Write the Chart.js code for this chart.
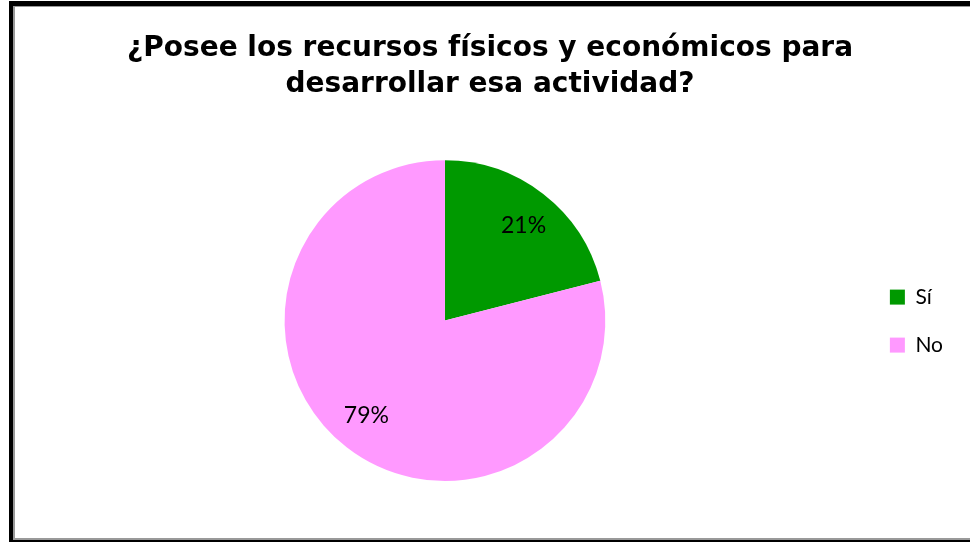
<!DOCTYPE html>
<html>
<head>
<meta charset="utf-8">
<script src="https://cdn.jsdelivr.net/npm/chart.js@4"></script>
<style>
  html, body { margin: 0; padding: 0; background: #fff; overflow: hidden; }
  body { width: 970px; height: 542px; position: relative; }
  #frame {
    position: absolute; left: 9px; top: 1px; width: 990px; height: 534px;
    border: 4px solid #000; border-top-width: 5px; border-bottom-width: 3px;
  }
  #inner {
    position: absolute; left: 0; top: 0; right: 0; bottom: 0;
    border: 2px solid #999; border-top-width: 1px;
  }
  #wrap { position: absolute; left: 16px; top: 7px; width: 954px; height: 530px; }
</style>
</head>
<body>
<div id="frame"><div id="inner"></div></div>
<div id="wrap"><canvas id="pieChart"></canvas></div>
<script>
const categories = ["Sí", "No"];
const percentages = [21, 79];
const sliceColors = ["#009900", "#FF99FF"];
const titleLines = ["¿Posee los recursos físicos y económicos para", "desarrollar esa actividad?"];

// etichette percentuali dentro le fette
const sliceLabels = {
  id: "sliceLabels",
  afterDatasetsDraw(chart) {
    const ctx = chart.ctx;
    const meta = chart.getDatasetMeta(0);
    ctx.save();
    ctx.font = "23px Lato";
    ctx.fillStyle = "#000";
    ctx.textAlign = "center";
    ctx.textBaseline = "middle";
    meta.data.forEach((arc, i) => {
      const p = arc.getProps(["x", "y", "startAngle", "endAngle", "outerRadius"], true);
      const mid = (p.startAngle + p.endAngle) / 2 + 0.03;
      const r = p.outerRadius * 0.77;
      ctx.fillText(`${percentages[i]}%`, p.x + Math.cos(mid) * r, p.y + Math.sin(mid) * r);
    });
    ctx.restore();
  },
};

const ctx = document.getElementById("pieChart").getContext("2d");
new Chart(ctx, {
  type: "pie",
  data: {
    labels: categories,
    datasets: [
      {
        data: percentages,
        backgroundColor: sliceColors,
        borderWidth: 0,
      },
    ],
  },
  options: {
    responsive: true,
    maintainAspectRatio: false,
    animation: false,
    layout: { padding: { left: 11, right: 17, top: 0, bottom: 56 } },
    plugins: {
      title: {
        display: true,
        text: titleLines,
        color: "#000",
        font: { family: "DejaVu Sans", size: 28, weight: "bold", lineHeight: 1.29 },
        padding: { top: 24, bottom: 57 },
      },
      legend: {
        position: "right",
        title: {
          display: true,
          text: " ",
          font: { size: 1 },
          padding: { top: 0, bottom: 153 },
        },
        labels: {
          color: "#000",
          font: { family: "Lato", size: 21 },
          boxWidth: 15,
          boxHeight: 15,
          padding: 27,
        },
      },
      tooltip: { enabled: false },
    },
  },
  plugins: [sliceLabels],
});
</script>
</body>
</html>
